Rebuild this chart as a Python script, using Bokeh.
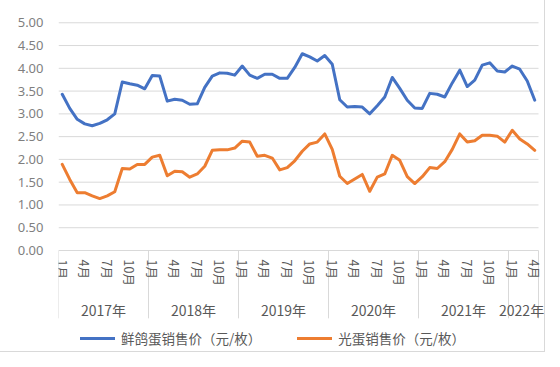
import numpy as np
from bokeh.plotting import figure
from bokeh.models import Range1d, FixedTicker, NumeralTickFormatter, Legend, LegendItem, ColumnDataSource
from bokeh.core.properties import value
from bokeh.embed import file_html
from bokeh.resources import INLINE

# ---- data ----
years = ["2017年", "2018年", "2019年", "2020年", "2021年", "2022年"]
months_per_year = [12, 12, 12, 12, 12, 4]
labelled_months = [1, 4, 7, 10]
series_names = ["鲜鸽蛋销售价（元/枚）", "光蛋销售价（元/枚）"]
pigeon_egg = [
    3.43, 3.12, 2.88, 2.78, 2.74, 2.79, 2.87, 3.00, 3.70, 3.66, 3.63, 3.55,
    3.84, 3.83, 3.28, 3.32, 3.30, 3.21, 3.22, 3.58, 3.83, 3.90, 3.89, 3.85,
    4.05, 3.85, 3.78, 3.87, 3.87, 3.78, 3.78, 4.02, 4.32, 4.25, 4.16, 4.28,
    4.09, 3.31, 3.15, 3.16, 3.15, 3.00, 3.18, 3.37, 3.80, 3.56, 3.30, 3.13,
    3.12, 3.45, 3.43, 3.37, 3.68, 3.96, 3.60, 3.74, 4.07, 4.12, 3.94, 3.92,
    4.05, 3.98, 3.72, 3.30,
]
plain_egg = [
    1.89, 1.56, 1.27, 1.27, 1.20, 1.14, 1.20, 1.29, 1.80, 1.79, 1.89, 1.89,
    2.05, 2.09, 1.64, 1.74, 1.73, 1.61, 1.68, 1.85, 2.20, 2.21, 2.21, 2.25,
    2.40, 2.38, 2.07, 2.09, 2.03, 1.77, 1.82, 1.97, 2.18, 2.34, 2.38, 2.56,
    2.22, 1.63, 1.47, 1.57, 1.67, 1.30, 1.61, 1.68, 2.09, 1.98, 1.62, 1.47,
    1.62, 1.82, 1.80, 1.95, 2.22, 2.56, 2.38, 2.41, 2.53, 2.53, 2.51, 2.38,
    2.64, 2.45, 2.34, 2.20,
]
y_ticks = [0.0, 0.5, 1.0, 1.5, 2.0, 2.5, 3.0, 3.5, 4.0, 4.5, 5.0]

# ---- style ----
BLUE = "#4472C4"
ORANGE = "#ED7D31"
GRID = "#d9d9d9"
TXT = "#595959"
FONT = value("Noto Sans CJK SC")

n = len(pigeon_egg)
x = list(range(n))
x_end = n - 0.5 + 0.8   # room on the right for the last labels

p = figure(width=544, height=351, output_backend="svg", toolbar_location=None,
           x_range=Range1d(-0.5, x_end), y_range=Range1d(-2.174, 5.05),
           x_axis_location=None,
           min_border_left=58, min_border_right=0, min_border_top=20, min_border_bottom=2)
p.outline_line_color = None
p.styles = {"outline": "1px solid #d9d9d9"}

p.xgrid.visible = False
p.ygrid.visible = False

p.yaxis.ticker = FixedTicker(ticks=y_ticks)
p.yaxis.formatter = NumeralTickFormatter(format="0.00")
p.yaxis.axis_line_color = None
p.yaxis.major_tick_line_color = None
p.yaxis.minor_tick_line_color = None
p.yaxis.major_tick_out = 0
p.yaxis.major_tick_in = 0
p.yaxis.major_label_text_color = "#7f7f7f"
p.yaxis.major_label_text_font = "Noto Sans"
p.yaxis.major_label_text_font_size = "13px"
p.yaxis.major_label_standoff = 15

# category boundaries
bounds = [-0.5]
for c in months_per_year:
    bounds.append(bounds[-1] + c)

# horizontal gridlines (incl. the axis line at 0), limited to the category span
p.segment(x0=[bounds[0]] * len(y_ticks), y0=y_ticks, x1=[bounds[-1]] * len(y_ticks), y1=y_ticks,
          line_color=GRID, line_width=1)
# year separators
p.segment(x0=bounds, y0=[0] * len(bounds), x1=bounds, y1=[-1.49] * len(bounds),
          line_color=GRID, line_width=1)

mx, mt = [], []
yx = []
for yi, c in enumerate(months_per_year):
    start = bounds[yi] + 0.5
    for m in labelled_months:
        if m <= c:
            mx.append(start + m - 1)
            mt.append(f"{m}月")
    yx.append(start + (c - 1) / 2)

p.text(x=mx, y=[-0.2] * len(mx), text=mt, angle=-np.pi / 2,
       text_align="left", text_baseline="middle",
       text_font=FONT, text_font_size="12.5px", text_color=TXT)
p.text(x=yx[:-1], y=[-1.296] * (len(yx) - 1), text=years[:-1],
       text_align="center", text_baseline="middle",
       text_font=FONT, text_font_size="14px", text_color=TXT)
# last (short) year: keep it inside the plot edge
p.text(x=[x_end - 0.05], y=[-1.296], text=years[-1:],
       text_align="right", text_baseline="middle",
       text_font=FONT, text_font_size="14px", text_color=TXT)

src = ColumnDataSource(dict(x=x, a=pigeon_egg, b=plain_egg))
r1 = p.line("x", "a", source=src, line_color=BLUE, line_width=3, line_join="round", line_cap="round")
r2 = p.line("x", "b", source=src, line_color=ORANGE, line_width=3, line_join="round", line_cap="round")

legend = Legend(items=[LegendItem(label=series_names[0], renderers=[r1]),
                       LegendItem(label=series_names[1], renderers=[r2])],
                location=(22, 1), orientation="horizontal",
                glyph_width=35, glyph_height=16, label_height=16,
                label_standoff=6, spacing=36, padding=0, margin=0,
                border_line_color=None, background_fill_alpha=0,
                label_text_font="Noto Sans CJK SC", label_text_font_size="13.5px",
                label_text_color=TXT)
p.add_layout(legend)

open("out.html", "w").write(file_html(p, INLINE))
